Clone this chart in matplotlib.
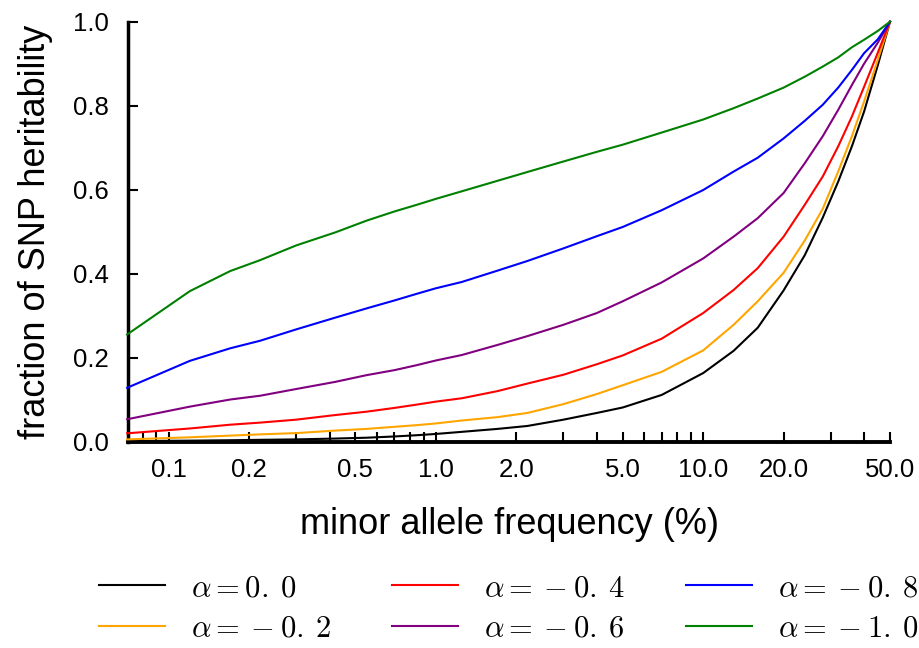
import matplotlib
matplotlib.use("Agg")
import matplotlib.pyplot as plt
from matplotlib.ticker import FixedLocator, FixedFormatter, NullLocator

plt.rcParams['font.family'] = ['Liberation Sans', 'DejaVu Sans']
plt.rcParams['mathtext.fontset'] = 'cm'

# minor allele frequency grid (%)
maf = [0.07, 0.12, 0.17, 0.22, 0.3, 0.42, 0.55, 0.7, 0.85, 1.0, 1.25, 1.7, 2.2,
       3.0, 4.0, 5.0, 7.0, 10.0, 13.0, 16.0, 20.0, 24.0, 28.0, 32.0, 36.0, 40.0,
       45.0, 50.0]

h_a00 = [0.001, 0.002, 0.003, 0.004, 0.005, 0.007, 0.009, 0.012, 0.015, 0.018,
         0.023, 0.030, 0.037, 0.052, 0.068, 0.081, 0.111, 0.163, 0.216, 0.271,
         0.360, 0.444, 0.533, 0.619, 0.703, 0.786, 0.896, 1.0]
h_a02 = [0.005, 0.010, 0.014, 0.017, 0.020, 0.026, 0.030, 0.035, 0.039, 0.043,
         0.050, 0.058, 0.068, 0.089, 0.113, 0.134, 0.166, 0.217, 0.278, 0.334,
         0.402, 0.479, 0.554, 0.643, 0.727, 0.810, 0.909, 1.0]
h_a04 = [0.0195, 0.031, 0.040, 0.045, 0.052, 0.063, 0.071, 0.080, 0.088, 0.095,
         0.103, 0.120, 0.138, 0.159, 0.184, 0.205, 0.245, 0.306, 0.361, 0.413,
         0.488, 0.564, 0.631, 0.703, 0.774, 0.845, 0.926, 1.0]
h_a06 = [0.053, 0.083, 0.100, 0.109, 0.125, 0.142, 0.158, 0.170, 0.182, 0.193,
         0.206, 0.230, 0.251, 0.278, 0.306, 0.334, 0.379, 0.436, 0.488, 0.532,
         0.592, 0.663, 0.727, 0.790, 0.849, 0.900, 0.950, 1.0]
h_a08 = [0.128, 0.192, 0.222, 0.240, 0.267, 0.295, 0.317, 0.336, 0.352, 0.365,
         0.380, 0.407, 0.430, 0.460, 0.489, 0.511, 0.551, 0.599, 0.643, 0.676,
         0.722, 0.764, 0.802, 0.843, 0.885, 0.925, 0.958, 1.0]
h_a10 = [0.255, 0.358, 0.406, 0.432, 0.467, 0.498, 0.526, 0.548, 0.564, 0.578,
         0.596, 0.621, 0.642, 0.667, 0.690, 0.707, 0.736, 0.767, 0.794, 0.817,
         0.843, 0.869, 0.893, 0.915, 0.939, 0.957, 0.978, 1.0]

series_labels = [r'$\alpha=0.\:0$', r'$\alpha=\:-\:0.\:2$', r'$\alpha=\:-\:0.\:4$',
                 r'$\alpha=\:-\:0.\:6$', r'$\alpha=\:-\:0.\:8$', r'$\alpha=\:-\:1.\:0$']
series_values = [h_a00, h_a02, h_a04, h_a06, h_a08, h_a10]
series_colors = ['black', 'orange', 'red', 'purple', 'blue', 'green']

xtick_pos = [0.08, 0.09, 0.1, 0.2, 0.3, 0.4, 0.5, 0.6, 0.7, 0.8, 0.9, 1.0,
             2, 3, 4, 5, 6, 7, 8, 9, 10, 20, 30, 40, 50]
xtick_labeled = {0.1: '0.1', 0.2: '0.2', 0.5: '0.5', 1.0: '1.0', 2: '2.0',
                 5: '5.0', 10: '10.0', 20: '20.0', 50: '50.0'}
ytick_pos = [0.0, 0.2, 0.4, 0.6, 0.8, 1.0]
ytick_labels = ['0.0', '0.2', '0.4', '0.6', '0.8', '1.0']

fig = plt.figure(figsize=(9.19, 6.48), dpi=100)
ax = fig.add_axes([128/919, 1 - 441.5/648, (890 - 128)/919, (441.5 - 21.7)/648])

for vals, lab, col in zip(series_values, series_labels, series_colors):
    ax.plot(maf, vals, color=col, lw=1.5, label=lab, clip_on=False, zorder=3)

ax.set_xscale('log')
ax.set_xlim(0.0705, 50)
ax.set_ylim(0, 1)

ax.xaxis.set_major_locator(FixedLocator(xtick_pos))
ax.xaxis.set_major_formatter(FixedFormatter([xtick_labeled.get(v, '') for v in xtick_pos]))
ax.xaxis.set_minor_locator(NullLocator())
ax.set_yticks(ytick_pos)
ax.set_yticklabels(ytick_labels)

ax.tick_params(axis='x', direction='in', length=7, width=1.5, labelsize=18.5, pad=12)
ax.tick_params(axis='y', direction='in', length=7, width=1.5, labelsize=18.5, pad=14)

for s in ['top', 'right']:
    ax.spines[s].set_visible(False)
ax.spines['left'].set_linewidth(2.5)
ax.spines['bottom'].set_linewidth(2.8)

ax.set_xlabel('minor allele frequency (%)', fontsize=26, labelpad=18)
ax.set_ylabel('fraction of SNP heritability', fontsize=26, labelpad=14)

fig.legend(loc='center', bbox_to_anchor=(509/919, 1 - 608.5/648),
           bbox_transform=fig.transFigure, ncol=3, frameon=False,
           fontsize=22, handlelength=2.15, handletextpad=0.85,
           columnspacing=2.0, labelspacing=0.35)

fig.savefig('out.png', dpi=100)
